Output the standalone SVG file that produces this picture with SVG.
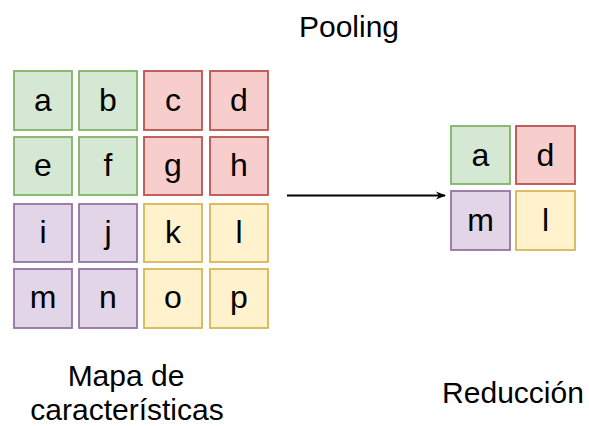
<svg xmlns="http://www.w3.org/2000/svg" width="589" height="426" viewBox="0 0 589 426">
  <defs>
    <style>
      .cell { stroke-width: 1.8; }
      .g { fill: #d5e8d4; stroke: #82b366; }
      .r { fill: #f8cecc; stroke: #b85450; }
      .p { fill: #e1d5e7; stroke: #9673a6; }
      .y { fill: #fff2cc; stroke: #d6b656; }
      .t { font-family: "Liberation Sans", Arial, sans-serif; font-size: 32px; fill: #000; text-anchor: middle; }
      .lbl { font-family: "Liberation Sans", Arial, sans-serif; font-size: 30px; fill: #000; text-anchor: middle; }
      .edge { stroke: #000; stroke-width: 1.8; fill: none; }
    </style>
    <marker id="arrow" viewBox="0 0 10 10" refX="9" refY="5" markerWidth="10" markerHeight="10" markerUnits="userSpaceOnUse" orient="auto">
      <path d="M0,1 L10,5 L0,9 L3,5 Z" fill="#000"/>
    </marker>
  </defs>
  <rect width="589" height="426" fill="#fff"/>

  <!-- feature map 4x4 -->
  <g id="cell-a"><rect class="cell g" x="14" y="71" width="58" height="59"/><text class="t" x="43" y="111">a</text></g>
  <g id="cell-b"><rect class="cell g" x="79" y="71" width="58" height="59"/><text class="t" x="108" y="111">b</text></g>
  <g id="cell-c"><rect class="cell r" x="144" y="71" width="58" height="59"/><text class="t" x="173" y="111">c</text></g>
  <g id="cell-d"><rect class="cell r" x="210" y="71" width="58" height="59"/><text class="t" x="239" y="111">d</text></g>

  <g id="cell-e"><rect class="cell g" x="14" y="137" width="58" height="58"/><text class="t" x="43" y="176">e</text></g>
  <g id="cell-f"><rect class="cell g" x="79" y="137" width="58" height="58"/><text class="t" x="108" y="176">f</text></g>
  <g id="cell-g"><rect class="cell r" x="144" y="137" width="58" height="58"/><text class="t" x="173" y="176">g</text></g>
  <g id="cell-h"><rect class="cell r" x="210" y="137" width="58" height="58"/><text class="t" x="239" y="176">h</text></g>

  <g id="cell-i"><rect class="cell p" x="14" y="204" width="58" height="58"/><text class="t" x="43" y="243">i</text></g>
  <g id="cell-j"><rect class="cell p" x="79" y="204" width="58" height="58"/><text class="t" x="108" y="243">j</text></g>
  <g id="cell-k"><rect class="cell y" x="144" y="204" width="58" height="58"/><text class="t" x="173" y="243">k</text></g>
  <g id="cell-l"><rect class="cell y" x="210" y="204" width="58" height="58"/><text class="t" x="239" y="243">l</text></g>

  <g id="cell-m"><rect class="cell p" x="14" y="269" width="58" height="59"/><text class="t" x="43" y="308">m</text></g>
  <g id="cell-n"><rect class="cell p" x="79" y="269" width="58" height="59"/><text class="t" x="108" y="308">n</text></g>
  <g id="cell-o"><rect class="cell y" x="144" y="269" width="58" height="59"/><text class="t" x="173" y="308">o</text></g>
  <g id="cell-p"><rect class="cell y" x="210" y="269" width="58" height="59"/><text class="t" x="239" y="308">p</text></g>

  <!-- pooled 2x2 -->
  <g id="out-a"><rect class="cell g" x="451" y="126" width="59" height="58"/><text class="t" x="480.5" y="166">a</text></g>
  <g id="out-d"><rect class="cell r" x="516" y="126" width="59" height="58"/><text class="t" x="545.5" y="166">d</text></g>
  <g id="out-m"><rect class="cell p" x="451" y="191" width="59" height="59"/><text class="t" x="480.5" y="231">m</text></g>
  <g id="out-l"><rect class="cell y" x="516" y="191" width="59" height="59"/><text class="t" x="545.5" y="231">l</text></g>

  <!-- connectors -->
  <g id="edges">
    <line class="edge" x1="287" y1="195.5" x2="445" y2="195.5" marker-end="url(#arrow)"/>
  </g>

  <!-- labels -->
  <g id="title"><text class="lbl" x="349" y="37">Pooling</text></g>
  <g id="label-map">
    <text class="lbl" x="126" y="386">Mapa de</text>
    <text class="lbl" x="127" y="420">características</text>
  </g>
  <g id="label-out"><text class="lbl" x="513" y="403">Reducción</text></g>
</svg>
